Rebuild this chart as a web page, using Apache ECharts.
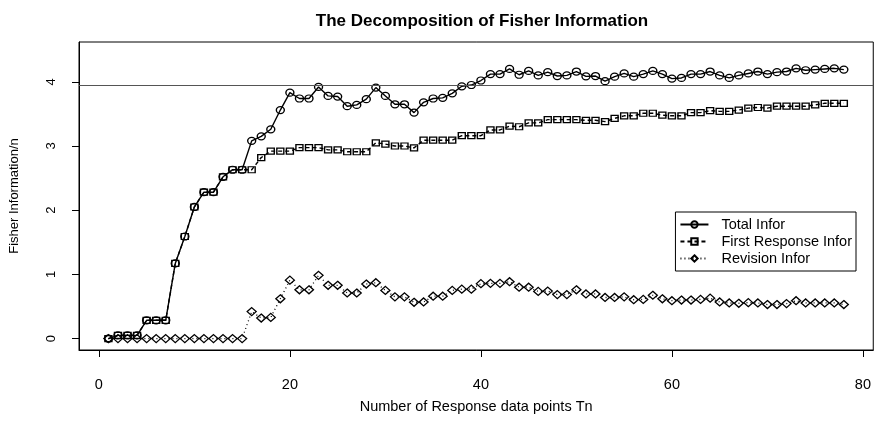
<!DOCTYPE html>
<html>
<head>
<meta charset="utf-8">
<script src="https://cdn.jsdelivr.net/npm/echarts@6/dist/echarts.min.js"></script>
<style>
  html, body { margin: 0; padding: 0; background: #fff; }
  #chart { width: 874px; height: 421px; }
</style>
</head>
<body>
<div id="chart"></div>
<script>
'use strict';

// Tn = number of response data points
var tn = [1, 2, 3, 4, 5, 6, 7, 8, 9, 10, 11, 12, 13, 14, 15, 16, 17, 18, 19, 20,
  21, 22, 23, 24, 25, 26, 27, 28, 29, 30, 31, 32, 33, 34, 35, 36, 37, 38, 39, 40,
  41, 42, 43, 44, 45, 46, 47, 48, 49, 50, 51, 52, 53, 54, 55, 56, 57, 58, 59, 60,
  61, 62, 63, 64, 65, 66, 67, 68, 69, 70, 71, 72, 73, 74, 75, 76, 77, 78];

var totalInfor = [0.00, 0.05, 0.05, 0.05, 0.285, 0.285, 0.285, 1.17, 1.59, 2.05,
  2.28, 2.28, 2.52, 2.63, 2.63, 3.08, 3.15, 3.26, 3.56, 3.83,
  3.74, 3.74, 3.92, 3.78, 3.77, 3.62, 3.64, 3.73, 3.91, 3.78,
  3.65, 3.65, 3.52, 3.68, 3.74, 3.75, 3.82, 3.93, 3.95, 4.02,
  4.12, 4.12, 4.20, 4.11, 4.17, 4.10, 4.15, 4.09, 4.10, 4.16,
  4.085, 4.09, 4.01, 4.08, 4.13, 4.08, 4.12, 4.17, 4.12, 4.05,
  4.06, 4.12, 4.12, 4.16, 4.10, 4.06, 4.10, 4.13, 4.16, 4.12,
  4.15, 4.16, 4.21, 4.18, 4.19, 4.20, 4.21, 4.19];

var firstInfor = [0.00, 0.05, 0.05, 0.05, 0.285, 0.285, 0.285, 1.17, 1.59, 2.05,
  2.28, 2.28, 2.52, 2.63, 2.63, 2.63, 2.82, 2.92, 2.92, 2.92,
  2.975, 2.975, 2.975, 2.94, 2.94, 2.91, 2.91, 2.91, 3.05, 3.03,
  3.00, 3.00, 2.97, 3.09, 3.09, 3.09, 3.09, 3.16, 3.16, 3.16,
  3.25, 3.25, 3.31, 3.30, 3.36, 3.36, 3.41, 3.41, 3.41, 3.41,
  3.40, 3.40, 3.38, 3.43, 3.47, 3.47, 3.51, 3.51, 3.48, 3.47,
  3.47, 3.52, 3.52, 3.55, 3.54, 3.54, 3.56, 3.59, 3.60, 3.59,
  3.62, 3.62, 3.62, 3.62, 3.64, 3.665, 3.665, 3.665];

var revisionInfor = [0, 0, 0, 0, 0, 0, 0, 0, 0, 0,
  0, 0, 0, 0, 0, 0.42, 0.32, 0.33, 0.62, 0.91,
  0.76, 0.76, 0.985, 0.83, 0.83, 0.71, 0.71, 0.85, 0.87, 0.75,
  0.65, 0.65, 0.565, 0.57, 0.66, 0.66, 0.75, 0.77, 0.77, 0.855,
  0.86, 0.86, 0.886, 0.80, 0.80, 0.735, 0.74, 0.685, 0.685, 0.76,
  0.695, 0.695, 0.64, 0.64, 0.65, 0.605, 0.61, 0.675, 0.62, 0.59,
  0.60, 0.60, 0.61, 0.63, 0.57, 0.555, 0.55, 0.56, 0.555, 0.53,
  0.53, 0.545, 0.59, 0.555, 0.555, 0.555, 0.555, 0.53];

var refLevel = 3.94;

var xTicks = [0, 20, 40, 60, 80];
var yTicks = [0, 1, 2, 3, 4];

var seriesNames = ['Total Infor', 'First Response Infor', 'Revision Infor'];

function pairs(ys) {
  var out = [];
  for (var i = 0; i < tn.length; i++) {
    out.push([tn[i], ys[i]]);
  }
  return out;
}

var FONT = '"Liberation Sans", Arial, sans-serif';
var hollow = { color: 'rgba(0,0,0,0)', borderColor: '#000', borderWidth: 1.3 };

var chart = echarts.init(document.getElementById('chart'), null, { renderer: 'canvas' });

chart.setOption({
  animation: false,
  backgroundColor: '#fff',
  textStyle: { fontFamily: FONT, color: '#000' },
  title: {
    text: 'The Decomposition of Fisher Information',
    left: 477,            // centred over the plot region, like R's main title
    textAlign: 'center',
    top: 8,
    textStyle: { fontFamily: FONT, fontSize: 17, fontWeight: 'bold', color: '#000' }
  },
  legend: {
    data: seriesNames,
    orient: 'vertical',
    right: 18,
    top: 212,
    itemWidth: 28,
    itemHeight: 8,
    itemGap: 2,
    padding: [5, 4, 5, 4],
    borderColor: '#000',
    borderWidth: 1,
    borderRadius: 0,
    backgroundColor: '#fff',
    textStyle: { fontFamily: FONT, fontSize: 14.5, color: '#000', padding: [0, 0, 0, 8] }
  },
  grid: {
    left: 79,
    right: -2,
    top: 42,
    bottom: 71,
    show: true,
    borderColor: '#000',
    borderWidth: 1,
    backgroundColor: 'transparent'
  },
  xAxis: {
    type: 'value',
    min: -2.08,
    max: 81.08,
    name: 'Number of Response data points Tn',
    nameLocation: 'middle',
    nameGap: 49,
    nameTextStyle: { fontFamily: FONT, fontSize: 14.5, color: '#000' },
    axisLine: { show: true, onZero: false, lineStyle: { color: '#000', width: 1 } },
    axisTick: { show: true, length: 7, customValues: xTicks, lineStyle: { color: '#000' } },
    axisLabel: { customValues: xTicks, margin: 27, fontSize: 14.5, color: '#000', fontFamily: FONT },
    splitLine: { show: false }
  },
  yAxis: {
    type: 'value',
    min: -0.178,
    max: 4.62,
    name: 'Fisher Information/n',
    nameLocation: 'middle',
    nameGap: 58,
    nameTextStyle: { fontFamily: FONT, fontSize: 13, color: '#000' },
    axisLine: { show: true, onZero: false, lineStyle: { color: '#000', width: 1 } },
    axisTick: { show: true, length: 7, customValues: yTicks, lineStyle: { color: '#000' } },
    axisLabel: { customValues: yTicks, rotate: 90, margin: 21, fontSize: 13, color: '#000', fontFamily: FONT },
    splitLine: { show: false }
  },
  series: [
    {
      name: seriesNames[0],
      type: 'line',
      data: pairs(totalInfor),
      symbol: 'circle',
      symbolSize: [8, 7],
      itemStyle: hollow,
      lineStyle: { color: '#000', width: 1.4, type: 'solid' },
      z: 4,
      markLine: {
        silent: true,
        symbol: ['none', 'none'],
        label: { show: false },
        lineStyle: { color: '#555', width: 1, type: 'solid' },
        data: [{ yAxis: refLevel }]
      }
    },
    {
      name: seriesNames[1],
      type: 'line',
      data: pairs(firstInfor),
      symbol: 'rect',
      symbolSize: [7, 6],
      itemStyle: hollow,
      lineStyle: { color: '#000', width: 1.4, type: [4, 3] },
      z: 3
    },
    {
      name: seriesNames[2],
      type: 'line',
      data: pairs(revisionInfor),
      symbol: 'diamond',
      symbolSize: [9, 8],
      itemStyle: hollow,
      lineStyle: { color: '#000', width: 1.3, type: [1, 3] },
      z: 2
    }
  ]
});
</script>
</body>
</html>
